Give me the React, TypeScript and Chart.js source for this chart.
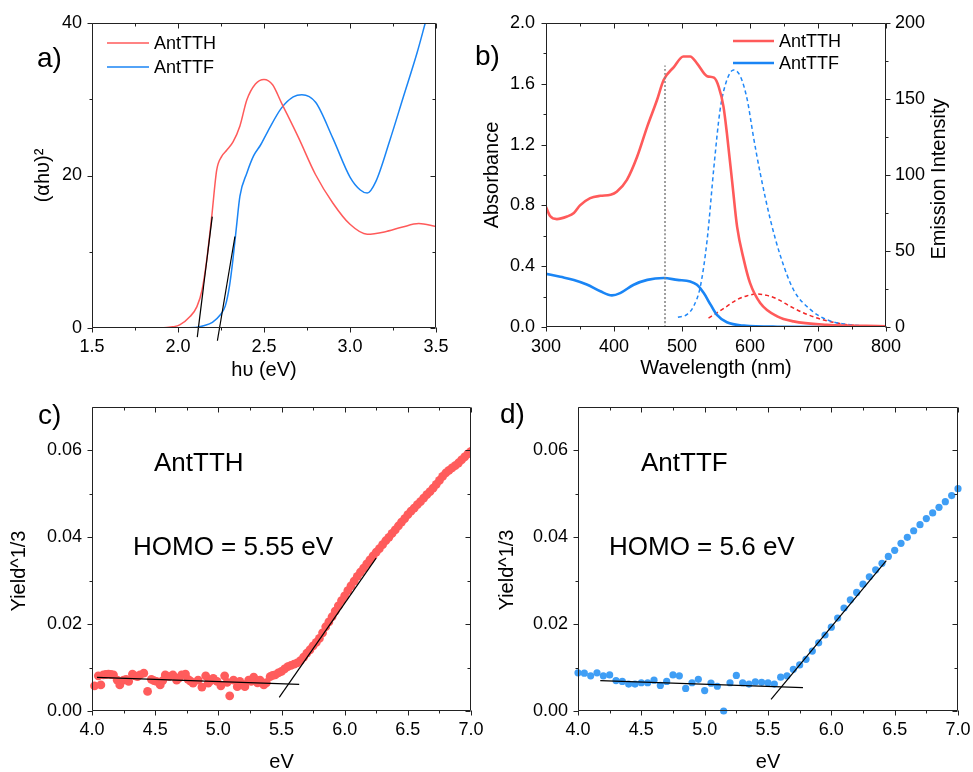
import React, { useEffect, useRef } from "react";
import { Chart, registerables } from "chart.js";

Chart.register(...registerables);

const FONT = "'Liberation Sans', Arial, Helvetica, sans-serif";
Chart.defaults.font.family = FONT;
Chart.defaults.color = "#000";

// ---------------- Panel a: Tauc plot ----------------
const aXTicks = [1.5, 2.0, 2.5, 3.0, 3.5];
const aXMinor = [1.75, 2.25, 2.75, 3.25];
const aYTicks = [0, 20, 40];
const aYMinor = [10, 30];
const aTTH_x = [1.5, 1.9, 1.97, 2.01, 2.07, 2.11, 2.14, 2.167, 2.196, 2.225, 2.254, 2.283, 2.32, 2.36, 2.4, 2.45, 2.5, 2.55, 2.6, 2.7, 2.8, 2.9, 3.0, 3.1, 3.2, 3.3, 3.4, 3.5];
const aTTH_y = [0, 0, 0.15, 0.4, 1.5, 2.8, 5.0, 8.9, 14.6, 20.7, 22.5, 23.3, 24.4, 26.5, 29.9, 32.0, 32.6, 31.9, 29.6, 25.0, 20.1, 16.4, 13.6, 12.3, 12.6, 13.2, 13.7, 13.3];
const aTTF_x = [1.5, 1.9, 2.1, 2.15, 2.2, 2.245, 2.275, 2.3, 2.32, 2.34, 2.36, 2.4, 2.44, 2.48, 2.52, 2.6, 2.67, 2.72, 2.8, 2.9, 3.0, 3.06, 3.1, 3.15, 3.23, 3.31, 3.39, 3.44, 3.46];
const aTTF_y = [0, 0, 0.05, 0.3, 0.75, 1.7, 2.9, 5.6, 9.1, 13.3, 17.3, 20.3, 22.6, 24.0, 25.7, 28.8, 30.3, 30.6, 29.6, 24.9, 19.8, 18.1, 17.7, 19.2, 24.5, 30.3, 36.1, 40.2, 41.8];
const aFitTTH_x = [2.112, 2.199];
const aFitTTH_y = [-1.2, 14.6];
const aFitTTF_x = [2.229, 2.331];
const aFitTTF_y = [-1.67, 12.0];

// ---------------- Panel b: absorbance / emission ----------------
const bXTicks = [300, 400, 500, 600, 700, 800];
const bXMinor = [350, 450, 550, 650, 750];
const bYTicks = [0, 0.4, 0.8, 1.2, 1.6, 2.0];
const bYMinor = [0.2, 0.6, 1.0, 1.4, 1.8];
const bY2Ticks = [0, 50, 100, 150, 200];
const bY2Minor = [25, 75, 125, 175];
const bAbsTTH_x = [300, 306, 316, 331, 341, 350, 365, 380, 395, 404, 419, 434, 449, 463, 473, 488, 502, 512, 522, 537, 547, 554, 561, 566, 574, 581, 591, 600, 615, 640, 664, 713, 800];
const bAbsTTH_y = [0.79, 0.73, 0.71, 0.727, 0.75, 0.8, 0.848, 0.863, 0.87, 0.89, 0.968, 1.12, 1.32, 1.49, 1.625, 1.71, 1.78, 1.78, 1.735, 1.65, 1.64, 1.58, 1.45, 1.275, 0.946, 0.66, 0.44, 0.29, 0.158, 0.07, 0.037, 0.015, 0.005];
const bAbsTTF_x = [300, 321, 341, 360, 380, 397, 409, 429, 449, 473, 493, 512, 522, 532, 542, 551, 566, 591, 640, 800];
const bAbsTTF_y = [0.35, 0.33, 0.31, 0.28, 0.235, 0.208, 0.223, 0.278, 0.31, 0.322, 0.31, 0.3, 0.278, 0.223, 0.147, 0.081, 0.031, 0.009, 0.002, 0];
const bEmTTF_x = [494, 507, 517, 527, 537, 547, 556, 566, 576, 586, 596, 605, 615, 630, 645, 664, 689, 713, 738, 762, 800];
const bEmTTF_y = [6.4, 8.1, 13.6, 26.7, 57.4, 105.6, 142.8, 162.5, 169.1, 164.7, 149.4, 125.3, 101.2, 70.5, 46.4, 24.5, 11.4, 4.8, 2.0, 0.9, 0.2];
const bEmTTH_x = [539, 551, 566, 581, 596, 610, 625, 640, 659, 679, 703, 728, 752, 800];
const bEmTTH_y = [5.9, 9.2, 13.6, 18.0, 20.6, 21.7, 20.8, 18.4, 13.6, 9.2, 5.3, 2.6, 1.1, 0.2];
const bExc_x = [475, 475];
const bExc_y = [0, 1.72];

// ---------------- Panels c / d: photoelectron yield ----------------
const cdXTicks = [4.0, 4.5, 5.0, 5.5, 6.0, 6.5, 7.0];
const cdXMinor = [4.25, 4.75, 5.25, 5.75, 6.25, 6.75];
const cdYTicks = [0, 0.02, 0.04, 0.06];
const cdYMinor = [0.01, 0.03, 0.05];

const cTTH_x = [
  4.02, 4.05, 4.07, 4.09, 4.11, 4.13, 4.15, 4.17, 4.2, 4.22, 4.25, 4.27, 4.29, 4.32, 4.34, 4.36, 4.38, 4.41, 4.44, 4.47,
  4.49, 4.51, 4.54, 4.56, 4.58, 4.61, 4.64, 4.67, 4.69, 4.71, 4.74, 4.76, 4.78, 4.8, 4.84, 4.87, 4.9, 4.92, 4.94, 4.96,
  4.99, 5.02, 5.05, 5.07, 5.09, 5.12, 5.15, 5.17, 5.19, 5.21, 5.24, 5.26, 5.28, 5.31, 5.33, 5.36, 5.38, 5.41, 5.43,
  5.45, 5.475, 5.5, 5.525, 5.55, 5.575, 5.6, 5.625, 5.65, 5.675, 5.7, 5.725, 5.75, 5.775, 5.8, 5.825, 5.85, 5.875, 5.9,
  5.925, 5.95, 5.975, 6.0, 6.025, 6.05, 6.075, 6.1, 6.125, 6.15, 6.175, 6.2, 6.225, 6.25, 6.275, 6.3, 6.325, 6.35,
  6.375, 6.4, 6.425, 6.45, 6.475, 6.5, 6.525, 6.55, 6.575, 6.6, 6.625, 6.65, 6.675, 6.7, 6.725, 6.75, 6.775, 6.8,
  6.825, 6.85, 6.875, 6.9, 6.925, 6.95, 6.975, 7.0,
];
const cTTH_y = [
  0.0058, 0.0081, 0.006, 0.0083, 0.0084, 0.0085, 0.0084, 0.0083, 0.0071, 0.006, 0.0071, 0.0073, 0.0068, 0.0085, 0.0081,
  0.0079, 0.0083, 0.0087, 0.0045, 0.0073, 0.007, 0.0068, 0.006, 0.007, 0.0083, 0.0079, 0.0083, 0.0071, 0.0076, 0.0083,
  0.0085, 0.0073, 0.0069, 0.0064, 0.0071, 0.0055, 0.0081, 0.0064, 0.007, 0.0075, 0.0068, 0.0058, 0.0081, 0.0066, 0.0035,
  0.0071, 0.0056, 0.0068, 0.0062, 0.0056, 0.0071, 0.0068, 0.0078, 0.0065, 0.0071, 0.006, 0.0065, 0.0079, 0.0082,
  0.0083, 0.0088, 0.0091, 0.0097, 0.0102, 0.0105, 0.0108, 0.0111, 0.0116, 0.0124, 0.0133, 0.0141, 0.015, 0.0158, 0.0167,
  0.018, 0.0194, 0.0205, 0.0217, 0.023, 0.0242, 0.0254, 0.0265, 0.0277, 0.0288, 0.0299, 0.031, 0.032, 0.0329, 0.0339,
  0.0348, 0.0357, 0.0366, 0.0374, 0.0383, 0.0392, 0.04, 0.0409, 0.0417, 0.0426, 0.0435, 0.0443, 0.0452, 0.046, 0.0467,
  0.0475, 0.0482, 0.049, 0.0498, 0.0505, 0.0513, 0.0522, 0.0531, 0.054, 0.0548, 0.0554, 0.056, 0.0565, 0.0571, 0.0578,
  0.0585, 0.0592, 0.0598,
];
const cFlat_x = [4.04, 5.64];
const cFlat_y = [0.00776, 0.00615];
const cRise_x = [5.482, 6.249];
const cRise_y = [0.00315, 0.0352];

const dTTF_x = [
  4.0, 4.05, 4.1, 4.15, 4.2, 4.25, 4.3, 4.35, 4.4, 4.45, 4.5, 4.55, 4.6, 4.65, 4.7, 4.75, 4.8, 4.85, 4.9, 4.95, 5.0,
  5.05, 5.1, 5.15, 5.2, 5.25, 5.3, 5.35, 5.4, 5.45, 5.5, 5.55, 5.6, 5.65, 5.7, 5.75, 5.8, 5.85, 5.9, 5.95, 6.0, 6.05,
  6.1, 6.15, 6.2, 6.25, 6.3, 6.35, 6.4, 6.45, 6.5, 6.55, 6.6, 6.65, 6.7, 6.75, 6.8, 6.85, 6.9, 6.95, 7.0, 7.05,
];
const dTTF_y = [
  0.0088, 0.0087, 0.0081, 0.0088, 0.0081, 0.0083, 0.007, 0.0068, 0.0062, 0.0062, 0.0065, 0.0065, 0.0071, 0.0059, 0.0068,
  0.0083, 0.0081, 0.0052, 0.0065, 0.0073, 0.0047, 0.0064, 0.0057, 0.0, 0.0065, 0.0082, 0.0065, 0.0062, 0.0067, 0.0066,
  0.0065, 0.0062, 0.0078, 0.0081, 0.0096, 0.0106, 0.0119, 0.0138, 0.0157, 0.0175, 0.0193, 0.0214, 0.0237, 0.0256,
  0.0273, 0.0292, 0.0309, 0.0325, 0.034, 0.0356, 0.037, 0.0386, 0.04, 0.0415, 0.0429, 0.0443, 0.0456, 0.0469, 0.0482,
  0.0496, 0.0512, 0.0527,
];
const dFlat_x = [4.176, 5.776];
const dFlat_y = [0.007, 0.0054];
const dRise_x = [5.524, 6.434];
const dRise_y = [0.0027, 0.0346];

// ---------------- colours ----------------
const RED = "#ff5a5a";
const BLUE = "#1a85f5";
const RED_EM = "#f22626";
const BLUE_EM = "#2088f8";
const DOT_RED = "#ff5c5c";
const DOT_BLUE = "#3f9ef5";
const INK = "#000";

const pts = (xs: number[], ys: number[]) => xs.map((x, i) => ({ x, y: ys[i] }));

// ---------------- helpers ----------------
function axis(o: any) {
  const horiz = o.position === "bottom";
  return {
    type: "linear",
    position: o.position,
    min: o.min,
    max: o.max,
    bounds: "data",
    grid: { display: false, drawTicks: false },
    border: { display: false },
    afterBuildTicks: (s: any) => {
      s.ticks = o.major.map((v: number) => ({ value: v }));
    },
    afterFit: (s: any) => {
      if (horiz) s.height = o.size;
      else s.width = o.size;
      s.paddingLeft = 0;
      s.paddingRight = 0;
      s.paddingTop = 0;
      s.paddingBottom = 0;
    },
    ticks: {
      autoSkip: false,
      maxRotation: 0,
      minRotation: 0,
      padding: o.pad,
      color: INK,
      font: { size: 18, family: FONT },
      callback: (v: any) => o.fmt(Number(v)),
    },
    title: o.title
      ? { display: true, text: o.title, color: INK, font: { size: 20, family: FONT }, padding: o.titlePad }
      : { display: false },
  };
}

function framePlugin(cfg: any) {
  return {
    id: "frame",
    afterDatasetsDraw(chart: any) {
      const { ctx, chartArea: ca, scales } = chart;
      const L = Math.round(ca.left) + 0.5;
      const R = Math.round(ca.right) - 0.5;
      const T = Math.round(ca.top) + 0.5;
      const B = Math.round(ca.bottom) - 0.5;
      const MAJ = 5;
      const MIN = 3;
      ctx.save();
      ctx.strokeStyle = "#222";
      ctx.lineWidth = 1;
      ctx.setLineDash([]);
      ctx.beginPath();
      ctx.rect(L, T, R - L, B - T);
      const seg = (x1: number, y1: number, x2: number, y2: number) => {
        ctx.moveTo(x1, y1);
        ctx.lineTo(x2, y2);
      };
      const xs = scales.x;
      const ys = scales.y;
      const xGroups: [number[], number][] = [
        [xs.ticks.map((t: any) => t.value), MAJ],
        [cfg.xMinor || [], MIN],
      ];
      for (const [vals, len] of xGroups) {
        for (const v of vals) {
          const p = Math.round(xs.getPixelForValue(v)) + 0.5;
          seg(p, B, p, B + len);
          seg(p, T, p, T + len);
        }
      }
      const yGroups: [number[], number][] = [
        [ys.ticks.map((t: any) => t.value), MAJ],
        [cfg.yMinor || [], MIN],
      ];
      for (const [vals, len] of yGroups) {
        for (const v of vals) {
          const p = Math.round(ys.getPixelForValue(v)) + 0.5;
          seg(L, p, L - len, p);
          if (!cfg.right) seg(R, p, R - len, p);
        }
      }
      if (cfg.right) {
        const rs = scales[cfg.right];
        const rGroups: [number[], number][] = [
          [rs.ticks.map((t: any) => t.value), MAJ],
          [cfg.rightMinor || [], MIN],
        ];
        for (const [vals, len] of rGroups) {
          for (const v of vals) {
            const p = Math.round(rs.getPixelForValue(v)) + 0.5;
            seg(R, p, R + len, p);
          }
        }
      }
      ctx.stroke();
      ctx.restore();
    },
  };
}

function legendPlugin(cfg: any) {
  return {
    id: "plegend",
    afterDraw(chart: any) {
      const ctx = chart.ctx;
      ctx.save();
      cfg.items.forEach((idx: number, k: number) => {
        const ds = chart.data.datasets[idx];
        const y = cfg.y + k * cfg.dy;
        ctx.strokeStyle = ds.borderColor;
        ctx.lineWidth = cfg.lineWidth;
        ctx.setLineDash([]);
        ctx.beginPath();
        ctx.moveTo(cfg.x, y);
        ctx.lineTo(cfg.x + cfg.len, y);
        ctx.stroke();
        ctx.fillStyle = INK;
        ctx.font = `${cfg.size}px ${FONT}`;
        ctx.textBaseline = "middle";
        ctx.textAlign = "left";
        ctx.fillText(ds.label, cfg.x + cfg.len + cfg.gap, y + 1);
      });
      ctx.restore();
    },
  };
}

function textPlugin(items: any[]) {
  return {
    id: "ptext",
    afterDraw(chart: any) {
      const ctx = chart.ctx;
      for (const t of items) {
        ctx.save();
        ctx.font = `${t.size}px ${FONT}`;
        ctx.fillStyle = INK;
        ctx.textBaseline = "middle";
        ctx.textAlign = t.align || "left";
        ctx.translate(t.x, t.y);
        if (t.rot) ctx.rotate((t.rot * Math.PI) / 180);
        ctx.fillText(t.text, 0, 0);
        ctx.restore();
      }
    },
  };
}

const baseOptions = (padTop: number, padRight: number) => ({
  responsive: false,
  animation: false,
  events: [],
  layout: { padding: { left: 0, top: padTop, right: padRight, bottom: 0 } },
  plugins: { legend: { display: false }, tooltip: { enabled: false } },
});

const curve = (label: string, xs: number[], ys: number[], color: string, width: number, extra: any = {}) => ({
  label,
  data: pts(xs, ys),
  borderColor: color,
  backgroundColor: color,
  borderWidth: width,
  pointRadius: 0,
  fill: false,
  cubicInterpolationMode: "monotone",
  order: 1,
  ...extra,
});

const fitLine = (label: string, xs: number[], ys: number[]) => ({
  label,
  data: pts(xs, ys),
  borderColor: INK,
  borderWidth: 1.2,
  pointRadius: 0,
  fill: false,
  clip: false,
  order: 0,
});

const dots = (label: string, xs: number[], ys: number[], color: string, r: number, clip: any) => ({
  label,
  data: pts(xs, ys),
  showLine: false,
  borderColor: color,
  backgroundColor: color,
  pointBackgroundColor: color,
  pointBorderWidth: 0,
  pointRadius: r,
  pointHoverRadius: r,
  clip,
  order: 1,
});

// ---------------- panel configs ----------------
function makeA(): any {
  return {
    type: "line",
    data: {
      datasets: [
        curve("AntTTH", aTTH_x, aTTH_y, RED, 1.5),
        curve("AntTTF", aTTF_x, aTTF_y, BLUE, 1.5),
        fitLine("AntTTH onset", aFitTTH_x, aFitTTH_y),
        fitLine("AntTTF onset", aFitTTF_x, aFitTTF_y),
      ],
    },
    options: {
      ...baseOptions(23, 24),
      scales: {
        x: axis({ position: "bottom", min: 1.5, max: 3.5, major: aXTicks, fmt: (v: number) => v.toFixed(1), size: 62, pad: 8, title: "hυ (eV)", titlePad: { top: 0, bottom: 8 } }),
        y: axis({ position: "left", min: 0, max: 40, major: aYTicks, fmt: (v: number) => String(v), size: 92, pad: 10, title: "(αhυ)²", titlePad: { top: 31, bottom: 0 } }),
      },
    },
    plugins: [
      framePlugin({ xMinor: aXMinor, yMinor: aYMinor }),
      legendPlugin({ items: [0, 1], x: 107, y: 43, dy: 24, len: 42, gap: 5, size: 18, lineWidth: 1.5 }),
      textPlugin([{ text: "a)", x: 37, y: 59, size: 28 }]),
    ],
  };
}

function makeB(): any {
  return {
    type: "line",
    data: {
      datasets: [
        curve("AntTTH", bAbsTTH_x, bAbsTTH_y, RED, 2.6),
        curve("AntTTF", bAbsTTF_x, bAbsTTF_y, BLUE, 2.6),
        curve("AntTTF emission", bEmTTF_x, bEmTTF_y, BLUE_EM, 1.5, { yAxisID: "y2", borderDash: [4, 3] }),
        curve("AntTTH emission", bEmTTH_x, bEmTTH_y, RED_EM, 1.5, { yAxisID: "y2", borderDash: [4, 3] }),
        curve("excitation", bExc_x, bExc_y, "#808080", 1.5, { borderDash: [2, 2], order: 0 }),
      ],
    },
    options: {
      ...baseOptions(23, 0),
      scales: {
        x: axis({ position: "bottom", min: 300, max: 800, major: bXTicks, fmt: (v: number) => String(v), size: 63, pad: 9, title: "Wavelength (nm)", titlePad: { top: 0, bottom: 10 } }),
        y: axis({ position: "left", min: 0, max: 2.0, major: bYTicks, fmt: (v: number) => v.toFixed(1), size: 86, pad: 11, title: "Absorbance", titlePad: { top: 20, bottom: 0 } }),
        y2: axis({ position: "right", min: 0, max: 200, major: bY2Ticks, fmt: (v: number) => String(v), size: 87, pad: 9 }),
      },
    },
    plugins: [
      framePlugin({ xMinor: bXMinor, yMinor: bYMinor, right: "y2", rightMinor: bY2Minor }),
      legendPlugin({ items: [0, 1], x: 273, y: 41, dy: 22, len: 41, gap: 5, size: 18, lineWidth: 2.6 }),
      textPlugin([
        { text: "b)", x: 15, y: 57, size: 28 },
        { text: "Emission Intensity", x: 479, y: 179, size: 20, rot: -90, align: "center" },
      ]),
    ],
  };
}

function makeC(): any {
  return {
    type: "line",
    data: {
      datasets: [
        dots("AntTTH", cTTH_x, cTTH_y, DOT_RED, 4.4, { left: 6, top: 0, right: 0, bottom: 6 }),
        fitLine("baseline", cFlat_x, cFlat_y),
        fitLine("onset", cRise_x, cRise_y),
      ],
    },
    options: {
      ...baseOptions(17, 24),
      scales: {
        x: axis({ position: "bottom", min: 4.0, max: 7.0, major: cdXTicks, fmt: (v: number) => v.toFixed(1), size: 63, pad: 8, title: "eV", titlePad: { top: 0, bottom: 0 } }),
        y: axis({ position: "left", min: 0, max: 0.07, major: cdYTicks, fmt: (v: number) => v.toFixed(2), size: 92, pad: 10 }),
      },
    },
    plugins: [
      framePlugin({ xMinor: cdXMinor, yMinor: cdYMinor }),
      textPlugin([
        { text: "c)", x: 38, y: 26, size: 28 },
        { text: "AntTTH", x: 154, y: 74, size: 26 },
        { text: "HOMO = 5.55 eV", x: 133, y: 158, size: 26 },
        { text: "Yield^1/3", x: 19, y: 181, size: 20, rot: -90, align: "center" },
      ]),
    ],
  };
}

function makeD(): any {
  return {
    type: "line",
    data: {
      datasets: [
        dots("AntTTF", dTTF_x, dTTF_y, DOT_BLUE, 3.6, false),
        fitLine("baseline", dFlat_x, dFlat_y),
        fitLine("onset", dRise_x, dRise_y),
      ],
    },
    options: {
      ...baseOptions(17, 15),
      scales: {
        x: axis({ position: "bottom", min: 4.0, max: 7.0, major: cdXTicks, fmt: (v: number) => v.toFixed(1), size: 63, pad: 8, title: "eV", titlePad: { top: 0, bottom: 0 } }),
        y: axis({ position: "left", min: 0, max: 0.07, major: cdYTicks, fmt: (v: number) => v.toFixed(2), size: 98, pad: 10 }),
      },
    },
    plugins: [
      framePlugin({ xMinor: cdXMinor, yMinor: cdYMinor }),
      textPlugin([
        { text: "d)", x: 20, y: 25, size: 28 },
        { text: "AntTTF", x: 161, y: 74, size: 26 },
        { text: "HOMO = 5.6 eV", x: 129, y: 158, size: 26 },
        { text: "Yield^1/3", x: 27, y: 180, size: 20, rot: -90, align: "center" },
      ]),
    ],
  };
}

function Panel({ x, y, w, h, make }: { x: number; y: number; w: number; h: number; make: () => any }) {
  const ref = useRef<HTMLCanvasElement | null>(null);
  useEffect(() => {
    if (!ref.current) return;
    const chart = new Chart(ref.current, make());
    return () => chart.destroy();
  }, []);
  return (
    <canvas
      ref={ref}
      width={w}
      height={h}
      style={{ position: "absolute", left: x, top: y, width: w, height: h, display: "block" }}
    />
  );
}

export default function App() {
  return (
    <div
      style={{
        position: "absolute",
        left: 0,
        top: 0,
        width: 973,
        height: 772,
        background: "#fff",
        overflow: "hidden",
      }}
    >
      <Panel x={0} y={0} w={460} h={390} make={makeA} />
      <Panel x={460} y={0} w={513} h={390} make={makeB} />
      <Panel x={0} y={390} w={495} h={384} make={makeC} />
      <Panel x={480} y={390} w={493} h={384} make={makeD} />
    </div>
  );
}
